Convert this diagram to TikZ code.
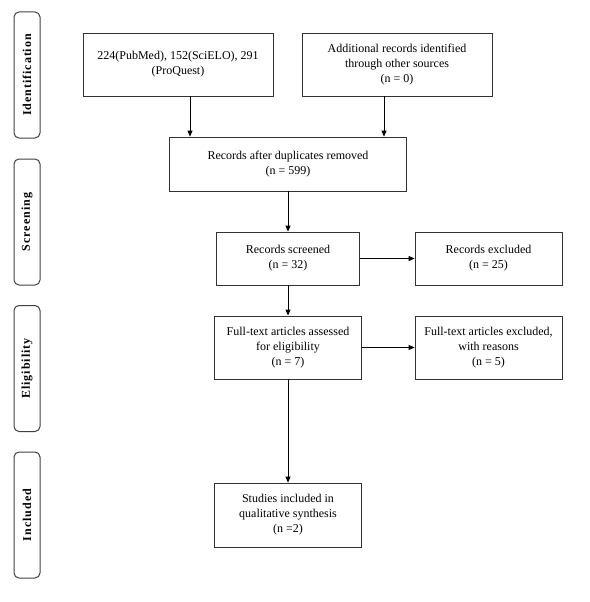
\documentclass[tikz,border=0pt]{standalone}
\usepackage{fontspec}
\setmainfont{Liberation Serif}
\usetikzlibrary{arrows.meta, positioning}

\tikzset{
  recbox/.style={draw=black!80, line width=0.8pt, align=center, inner sep=2pt,
    font=\fontsize{12}{15}\selectfont},
  phase/.style={draw=black!75, line width=1pt, rounded corners=5pt,
    minimum width=26pt, minimum height=126pt, inner sep=0pt,
    font=\fontsize{12}{14}\selectfont\bfseries\addfontfeatures{LetterSpace=8}},
  flow/.style={-{Triangle[length=6pt,width=5pt]}, line width=0.8pt},
}
\newcommand{\phasetext}[1]{\rotatebox{90}{#1}}

\begin{document}
\begin{tikzpicture}[x=1pt, y=-1pt]
\useasboundingbox (0,0) rectangle (589,602);

% phases on the left
\node[phase] (pid) at (27,75) {\phasetext{Identification}};
\node[phase] (pscr) at (27,222) {\phasetext{Screening}};
\node[phase] (pelig) at (27,368.5) {\phasetext{Eligibility}};
\node[phase] (pincl) at (27,515) {\phasetext{Included}};

% records
\node[recbox, minimum width=190pt, minimum height=63pt] (rec1) at (178,64.5) {224(PubMed), 152(SciELO), 291\\(ProQuest)};
\node[recbox, minimum width=190pt, minimum height=63pt] (rec2) at (397,64.5) {Additional records identified\\through other sources\\(n = 0)};
\node[recbox, minimum width=237pt, minimum height=54pt] (dup) at (288,164) {Records after duplicates removed\\(n = 599)};
\node[recbox, minimum width=143pt, minimum height=53pt] (screened) at (288,258.5) {Records screened\\(n = 32)};
\node[recbox, minimum width=147pt, minimum height=53pt] (excl) at (488.5,258.5) {Records excluded\\(n = 25)};
\node[recbox, minimum width=147pt, minimum height=63pt] (fulltext) at (288,347.5) {Full-text articles assessed\\for eligibility\\(n = 7)};
\node[recbox, minimum width=147pt, minimum height=63pt] (ftexcl) at (488.5,347.5) {Full-text articles excluded,\\with reasons\\(n = 5)};
\node[recbox, minimum width=147pt, minimum height=64pt] (synth) at (288,515) {Studies included in\\qualitative synthesis\\(n =2)};

% arrows
\draw[flow] ([xshift=12pt]rec1.south) -- ([xshift=12pt]rec1.south |- dup.north);
\draw[flow] ([xshift=-13pt]rec2.south) -- ([xshift=-13pt]rec2.south |- dup.north);
\draw[flow] (dup.south) -- (screened.north);
\draw[flow] (screened.east) -- (excl.west);
\draw[flow] (screened.south) -- (fulltext.north);
\draw[flow] (fulltext.east) -- (ftexcl.west);
\draw[flow] (fulltext.south) -- (synth.north);
\end{tikzpicture}
\end{document}
